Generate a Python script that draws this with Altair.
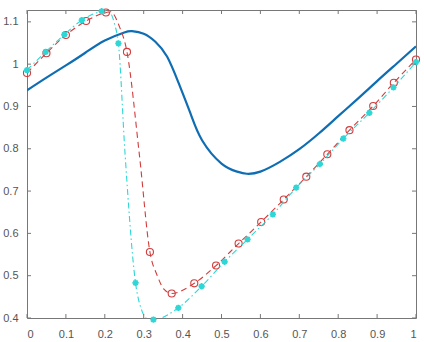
import altair as alt
import pandas as pd

# Blue solid curve
blue_x = [0, 0.05, 0.1, 0.15, 0.2, 0.25, 0.27, 0.3, 0.33, 0.36, 0.39, 0.42, 0.45, 0.5,
          0.54, 0.565, 0.6, 0.65, 0.7, 0.75, 0.8, 0.85, 0.9, 0.95, 1.0]
blue_y = [0.938, 0.968, 0.997, 1.027, 1.056, 1.075, 1.078, 1.072, 1.053, 1.018, 0.955, 0.884,
          0.820, 0.765, 0.746, 0.741, 0.746, 0.769, 0.799, 0.836, 0.877, 0.918, 0.960, 1.001, 1.042]

# Red dashed curve with circle markers
red_mark_x = [0, 0.05, 0.1, 0.152, 0.203, 0.257, 0.316, 0.372, 0.430, 0.486, 0.544, 0.602,
              0.660, 0.718, 0.772, 0.829, 0.890, 0.943, 1.0]
red_mark_y = [0.979, 1.026, 1.069, 1.102, 1.122, 1.029, 0.556, 0.458, 0.482, 0.524, 0.576, 0.627,
              0.680, 0.734, 0.787, 0.844, 0.901, 0.956, 1.011]
red_extra_x = [0.215, 0.237, 0.289, 0.335, 0.352]
red_extra_y = [1.124, 1.090, 0.785, 0.500, 0.468]

# Cyan dash-dot curve with asterisk markers
cyan_mark_x = [0, 0.048, 0.096, 0.141, 0.192, 0.235, 0.279, 0.325, 0.389, 0.449, 0.508, 0.567,
               0.632, 0.692, 0.753, 0.813, 0.88, 0.942, 1.0]
cyan_mark_y = [0.986, 1.029, 1.070, 1.104, 1.125, 1.049, 0.483, 0.396, 0.424, 0.475, 0.533, 0.586,
               0.645, 0.708, 0.764, 0.824, 0.885, 0.945, 1.005]
cyan_extra_x = [0.207, 0.226, 0.252, 0.295, 0.31]
cyan_extra_y = [1.127, 1.092, 0.789, 0.418, 0.398]

x_ticks = [0, 0.1, 0.2, 0.3, 0.4, 0.5, 0.6, 0.7, 0.8, 0.9, 1.0]
y_ticks = [0.4, 0.5, 0.6, 0.7, 0.8, 0.9, 1.0, 1.1]

W, H = 389, 308
XD = [0, 1]
YD = [0.4, 1.128]

blue_df = pd.DataFrame({"x": blue_x, "y": blue_y})
red_line_df = pd.DataFrame({"x": red_mark_x + red_extra_x, "y": red_mark_y + red_extra_y}).sort_values("x")
red_mark_df = pd.DataFrame({"x": red_mark_x, "y": red_mark_y})
cyan_line_df = pd.DataFrame({"x": cyan_mark_x + cyan_extra_x, "y": cyan_mark_y + cyan_extra_y}).sort_values("x")
cyan_mark_df = pd.DataFrame({"x": cyan_mark_x, "y": cyan_mark_y})
xt_df = pd.DataFrame({"x": x_ticks})
yt_df = pd.DataFrame({"y": y_ticks})

label_font = "Liberation Sans"
xs = alt.Scale(domain=XD, nice=False, zero=False)
ys = alt.Scale(domain=YD, nice=False, zero=False)

xax = alt.Axis(values=x_ticks, format="~g", grid=False, ticks=False, domain=False,
               labelFont=label_font, labelFontSize=11, labelColor="#555555", labelPadding=10,
               title=None)
yax = alt.Axis(values=y_ticks, format="~g", grid=False, ticks=False, domain=False,
               labelFont=label_font, labelFontSize=11, labelColor="#555555", labelPadding=9,
               title=None)

X = alt.X("x:Q", scale=xs, axis=xax)
Y = alt.Y("y:Q", scale=ys, axis=yax)

blue = alt.Chart(blue_df).mark_line(color="#0f6db3", strokeWidth=2.2, interpolate="natural",
                                    clip=True).encode(x=X, y=Y)
red_line = alt.Chart(red_line_df).mark_line(color="#d23c3c", strokeWidth=1.1, strokeDash=[6, 4],
                                            interpolate="monotone", clip=True).encode(x=X, y=Y)
red_pts = alt.Chart(red_mark_df).mark_point(shape="circle", size=50, filled=False,
                                            color="#d23c3c", strokeWidth=1.1, opacity=1).encode(x=X, y=Y)
cyan_line = alt.Chart(cyan_line_df).mark_line(color="#2ed6d6", strokeWidth=1.1,
                                              strokeDash=[6, 3, 1.5, 3],
                                              interpolate="monotone", clip=True).encode(x=X, y=Y)
ast = "M-1,0L1,0M0,-1L0,1M-0.7,-0.7L0.7,0.7M-0.7,0.7L0.7,-0.7"
cyan_pts = alt.Chart(cyan_mark_df).mark_point(shape=ast, size=40, filled=False,
                                              color="#2ed6d6", strokeWidth=1.8, opacity=1).encode(x=X, y=Y)

tick_color = "#777777"
XT = alt.X("x:Q", scale=xs, axis=xax)
YT = alt.Y("y:Q", scale=ys, axis=yax)
xt_bot = alt.Chart(xt_df).mark_rule(color=tick_color, strokeWidth=1).encode(
    x=XT, y=alt.value(H), y2=alt.value(H - 4))
xt_top = alt.Chart(xt_df).mark_rule(color=tick_color, strokeWidth=1).encode(
    x=XT, y=alt.value(0), y2=alt.value(4))
yt_left = alt.Chart(yt_df).mark_rule(color=tick_color, strokeWidth=1).encode(
    y=YT, x=alt.value(0), x2=alt.value(4))
yt_right = alt.Chart(yt_df).mark_rule(color=tick_color, strokeWidth=1).encode(
    y=YT, x=alt.value(W), x2=alt.value(W - 4))

chart = alt.layer(blue, red_line, red_pts, cyan_line, cyan_pts,
                  xt_bot, xt_top, yt_left, yt_right).properties(
    width=W, height=H,
    autosize=alt.AutoSizeParams(type="none"),
    padding={"left": 27, "top": 10, "right": 8, "bottom": 24},
    background="white",
).configure_view(stroke=tick_color, strokeWidth=1)

chart.save("out.html", embed_options={"renderer": "svg", "actions": False})
